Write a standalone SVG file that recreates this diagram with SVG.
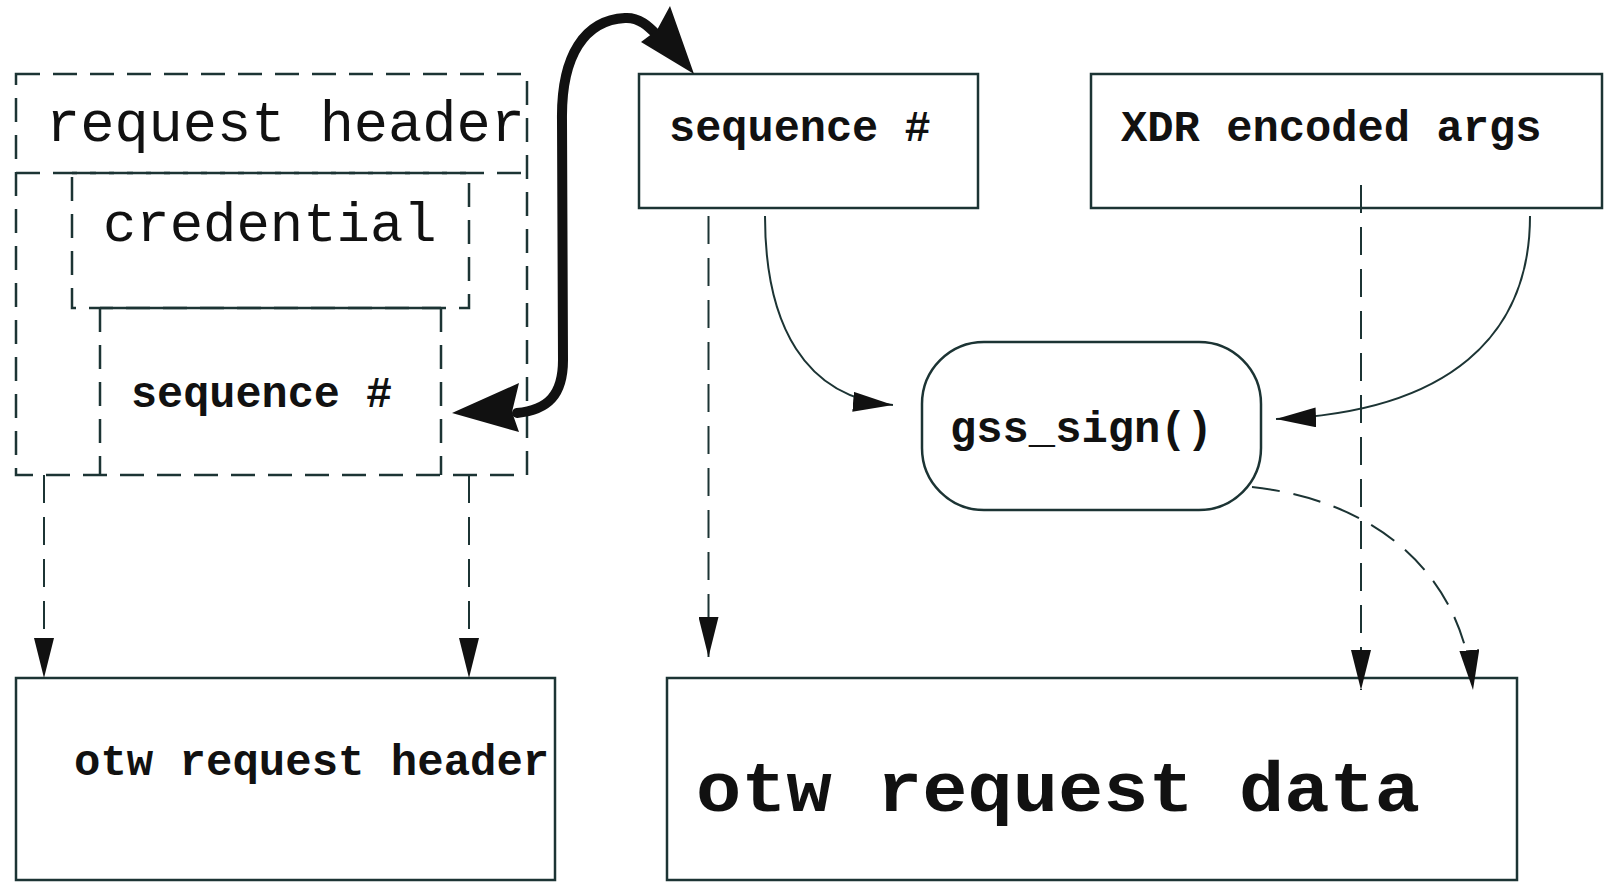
<svg xmlns="http://www.w3.org/2000/svg" width="1610" height="882" viewBox="0 0 1610 882">
<defs>
<style>
.box{fill:none;stroke:#1c3434;stroke-width:2.5}
.dbox{fill:none;stroke:#1c3434;stroke-width:2.5;stroke-dasharray:24 13}
.conn{fill:none;stroke:#1c3434;stroke-width:2}
.dconn{fill:none;stroke:#1c3434;stroke-width:2;stroke-dasharray:28 14}
.t{font-family:"Liberation Mono","Courier New",monospace;fill:#111}
.b{font-weight:bold}
</style>
<marker id="ah" viewBox="0 0 40 20" refX="40" refY="10" markerWidth="40" markerHeight="20" markerUnits="userSpaceOnUse" orient="auto">
<path d="M0,0 L40,10 L0,20 Z" fill="#111" stroke="none"/>
</marker>
</defs>
<rect width="1610" height="882" fill="#fff"/>

<g id="request-header">
<rect class="dbox" x="16" y="74" width="511" height="401"/>
<line class="dbox" x1="16" y1="173" x2="527" y2="173"/>
<text class="t" x="46" y="141" font-size="57">request header</text>
</g>

<g id="credential">
<rect class="dbox" x="72" y="173" width="397" height="135"/>
<text class="t" x="103" y="241" font-size="55.6">credential</text>
</g>

<g id="inner-sequence">
<line class="box" x1="100" y1="308" x2="441" y2="308"/>
<line class="dbox" x1="100" y1="308" x2="100" y2="475"/>
<line class="dbox" x1="441" y1="308" x2="441" y2="475"/>
<text class="t b" x="131" y="407" font-size="43.5">sequence #</text>
</g>

<g id="sequence">
<rect class="box" x="639" y="74" width="339" height="134"/>
<text class="t b" x="669" y="141" font-size="43.6">sequence #</text>
</g>

<g id="xdr-args">
<rect class="box" x="1091" y="74" width="511" height="134"/>
<text class="t b" x="1121" y="141" font-size="43.8">XDR encoded args</text>
</g>

<g id="gss-sign">
<rect class="box" x="922" y="342" width="339" height="168" rx="62" ry="62"/>
<text class="t b" x="950" y="442" font-size="43.8">gss_sign()</text>
</g>

<g id="otw-header">
<rect class="box" x="16" y="678" width="539" height="202"/>
<text class="t b" x="74" y="775" font-size="44">otw request header</text>
</g>

<g id="otw-data">
<rect class="box" x="667" y="678" width="850" height="202"/>
<text class="t b" x="696" y="811" font-size="70.7" textLength="724" lengthAdjust="spacingAndGlyphs">otw request data</text>
</g>

<g id="connectors">
<path d="M517,413 C548,410 563,395 563,360 L562,120 C561,55 585,20 625,18 C640,17 650,28 658,36" fill="none" stroke="#111" stroke-width="10" stroke-linecap="round"/>
<polygon points="452,413 519,383 512,412 519,432" fill="#111"/>
<polygon points="694,74 641,42 657,30 670,6" fill="#111"/>

<line class="dconn" x1="44" y1="475" x2="44" y2="678" marker-end="url(#ah)"/>
<line class="dconn" x1="469" y1="475" x2="469" y2="678" marker-end="url(#ah)"/>
<line class="dconn" x1="708.5" y1="216" x2="708.5" y2="657" marker-end="url(#ah)"/>
<line class="dconn" x1="1361" y1="185" x2="1361" y2="690" marker-end="url(#ah)"/>
<path class="dconn" d="M1252,487 C1372,500 1462,570 1473,690" marker-end="url(#ah)"/>
<path class="conn" d="M765,216 C765,325 805,398 893,405" marker-end="url(#ah)"/>
<path class="conn" d="M1530,216 C1530,335 1450,412 1276,419" marker-end="url(#ah)"/>
</g>
</svg>
